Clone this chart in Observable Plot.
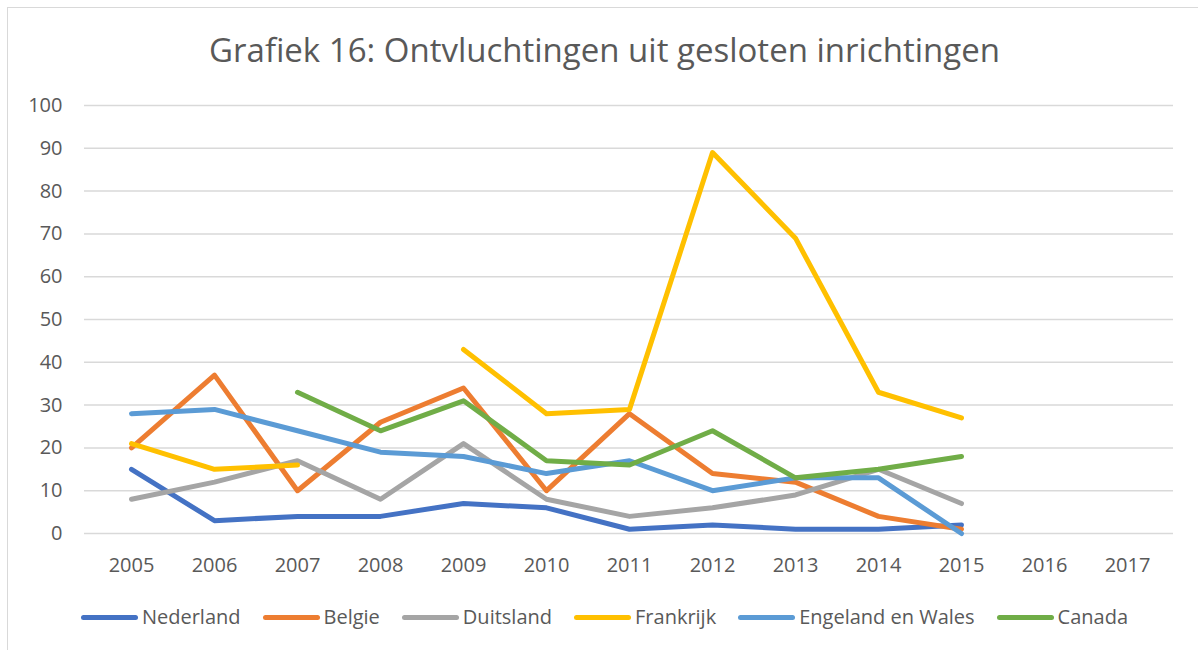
<!DOCTYPE html>
<html>
<head>
<meta charset="utf-8">
<script src="https://cdn.jsdelivr.net/npm/d3@7"></script>
<script src="https://cdn.jsdelivr.net/npm/@observablehq/plot@0.6"></script>
<style>
  html, body { margin: 0; padding: 0; background: #fff; }
  #wrap { position: relative; width: 1198px; height: 650px; overflow: hidden; font-family: "Open Sans", sans-serif; color: #595959; }
  #border { position: absolute; left: 7px; top: 7px; width: 1300px; height: 700px; border-left: 1.5px solid #d9d9d9; border-top: 1.5px solid #d9d9d9; box-sizing: border-box; }
  #title { position: absolute; left: 0; top: 28px; width: 1209px; text-align: center; font-size: 33px; line-height: 44px; color: #595959; }
  #chart { position: absolute; left: 0; top: 85px; }
  #legend { position: absolute; left: 0; top: 604px; width: 1209px; display: flex; justify-content: center; gap: 22px; font-size: 20px; line-height: 26px; }
  .item { display: flex; align-items: center; }
  .sw { width: 57px; height: 5px; border-radius: 3px; margin-right: 4px; }
</style>
</head>
<body>
<div id="wrap">
  <div id="border"></div>
  <div id="title"></div>
  <div id="chart"></div>
  <div id="legend"></div>
</div>
<script>
const title = "Grafiek 16: Ontvluchtingen uit gesloten inrichtingen";
const years = ["2005","2006","2007","2008","2009","2010","2011","2012","2013","2014","2015","2016","2017"];
const yTicks = [0,10,20,30,40,50,60,70,80,90,100];
const seriesNames = ["Nederland","Belgie","Duitsland","Frankrijk","Engeland en Wales","Canada"];
const seriesColors = ["#4472C4","#ED7D31","#A5A5A5","#FFC000","#5B9BD5","#70AD47"];

const nederland = [15, 3, 4, 4, 7, 6, 1, 2, 1, 1, 2, null, null];
const belgie    = [20, 37, 10, 26, 34, 10, 28, 14, 12, 4, 1, null, null];
const duitsland = [8, 12, 17, 8, 21, 8, 4, 6, 9, 15, 7, null, null];
const frankrijk = [21, 15, 16, null, 43, 28, 29, 89, 69, 33, 27, null, null];
const engeland  = [28, 29, 24, 19, 18, 14, 17, 10, 13, 13, 0, null, null];
const canada    = [null, null, 33, 24, 31, 17, 16, 24, 13, 15, 18, null, null];

const seriesValues = [nederland, belgie, duitsland, frankrijk, engeland, canada];

const data = [];
seriesNames.forEach((name, i) => {
  years.forEach((yr, j) => {
    data.push({series: name, year: yr, value: seriesValues[i][j]});
  });
});

document.getElementById("title").textContent = title;

const chart = Plot.plot({
  width: 1198,
  height: 495,
  marginLeft: 84,
  marginRight: 25,
  marginTop: 20,
  marginBottom: 47,
  style: { fontFamily: "Open Sans, sans-serif", fontSize: "20px", color: "#595959", background: "transparent" },
  x: { type: "point", domain: years, padding: 0.5, label: null },
  y: { domain: [0, 100], ticks: yTicks, label: null },
  color: { domain: seriesNames, range: seriesColors },
  marks: [
    Plot.gridY(yTicks, { stroke: "#d9d9d9", strokeOpacity: 1, strokeWidth: 1.5 }),
    Plot.axisY(yTicks, { tickSize: 0, tickPadding: 22, fontSize: 20, fill: "#595959", label: null }),
    Plot.axisX(years, { tickSize: 0, tickPadding: 24, fontSize: 20, fill: "#595959", label: null }),
    Plot.line(data, { x: "year", y: "value", z: "series", stroke: "series", strokeWidth: 5, strokeLinecap: "round", strokeLinejoin: "round" })
  ]
});
document.getElementById("chart").appendChild(chart);

const legend = document.getElementById("legend");
seriesNames.forEach((name, i) => {
  const item = document.createElement("div");
  item.className = "item";
  const sw = document.createElement("div");
  sw.className = "sw";
  sw.style.background = seriesColors[i];
  const t = document.createElement("span");
  t.textContent = name;
  item.appendChild(sw);
  item.appendChild(t);
  legend.appendChild(item);
});
</script>
</body>
</html>
